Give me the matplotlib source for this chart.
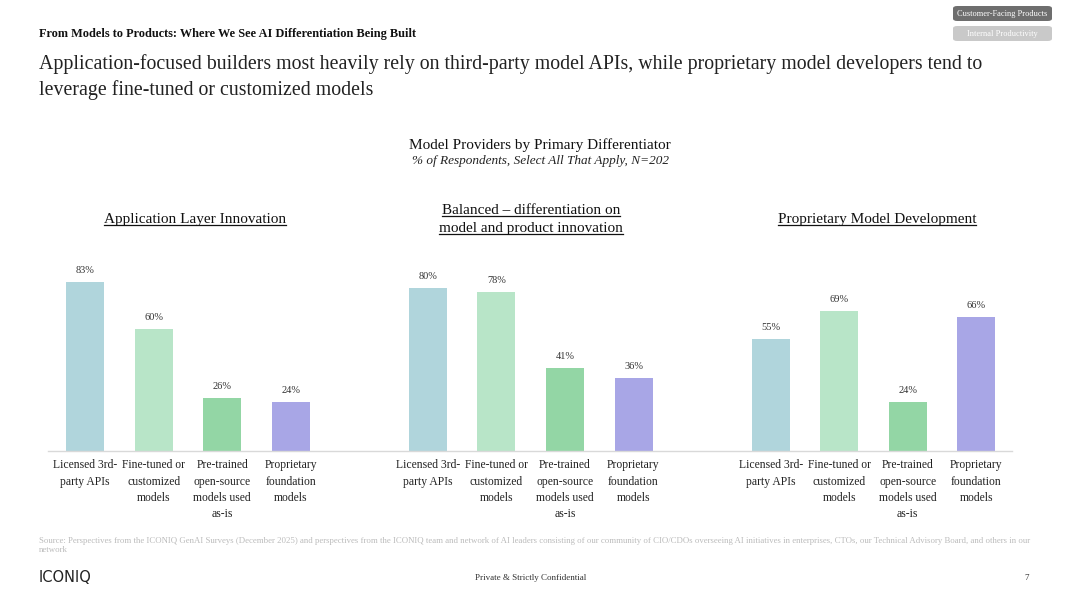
import numpy as np
import matplotlib
matplotlib.use("Agg")
import matplotlib.pyplot as plt
from matplotlib.patches import FancyBboxPatch
from matplotlib.lines import Line2D

# --- Data ---
categories = [
    "Licensed 3rd-\nparty APIs",
    "Fine-tuned or\ncustomized\nmodels",
    "Pre-trained\nopen-source\nmodels used\nas-is",
    "Proprietary\nfoundation\nmodels",
]
groups = [
    "Application Layer Innovation",
    "Balanced \u2013 differentiation on\nmodel and product innovation",
    "Proprietary Model Development",
]
app_layer = [83, 60, 26, 24]
balanced = [80, 78, 41, 36]
proprietary = [55, 69, 24, 66]
series = [app_layer, balanced, proprietary]

colors = ["#b0d5dc", "#b8e5c8", "#93d6a5", "#a8a6e6"]
SERIF = ["Liberation Serif", "DejaVu Serif"]

plt.rcParams["font.family"] = SERIF

fig = plt.figure(figsize=(10.67, 6), dpi=100)
W, H = 1067, 600


def fx(px):
    return px / W


def fy(py):
    return 1 - py / H


# one shared axis, groups separated by an empty slot
ax = fig.add_axes([fx(48), fy(451), fx(1012 - 48), (451 - 247.4) / H])
gap = 5
xpos, xlabels = [], []
for g, vals in enumerate(series):
    x = np.arange(len(vals)) + g * gap
    ax.bar(x, vals, width=0.555, color=colors, zorder=2)
    for xi, v in zip(x, vals):
        ax.annotate(f"{v}%", (xi, v), xytext=(0, 5), textcoords="offset points",
                    ha="center", va="bottom", fontsize=7.5, color="#333333")
    xpos.extend(x)
    xlabels.extend(categories)

ax.set_xlim(-0.54, 13.52)
ax.set_ylim(0, 100)
ax.set_xticks(xpos)
ax.set_xticklabels(xlabels, fontsize=8.4, color="#222222", linespacing=1.47)
ax.tick_params(axis="x", length=0, pad=6)
ax.set_yticks([])
for s in ["top", "right", "left"]:
    ax.spines[s].set_visible(False)
ax.spines["bottom"].set_color("#d9d9d9")
ax.spines["bottom"].set_linewidth(1)

# --- Headers ---
fig.text(fx(39), fy(34), "From Models to Products: Where We See AI Differentiation Being Built",
         fontsize=8.8, fontweight="bold", va="center", ha="left", color="#111111")
fig.text(fx(39), fy(64), "Application-focused builders most heavily rely on third-party model APIs, "
         "while proprietary model developers tend to",
         fontsize=14.3, va="center", ha="left", color="#222222")
fig.text(fx(39), fy(90), "leverage fine-tuned or customized models",
         fontsize=14.3, va="center", ha="left", color="#222222")

fig.text(fx(540), fy(145), "Model Providers by Primary Differentiator",
         fontsize=11, va="center", ha="center", color="#111111")
fig.text(fx(540), fy(161), "% of Respondents, Select All That Apply, N=202",
         fontsize=9.5, style="italic", va="center", ha="center", color="#222222")

# group titles, underlined
title_items = [(195, 219, groups[0]), (877, 219, groups[2])]
l1, l2 = groups[1].split("\n")
title_items += [(531, 210, l1), (531, 229, l2)]
title_texts = []
for cx, cy, t in title_items:
    title_texts.append(fig.text(fx(cx), fy(cy), t, fontsize=11, ha="center", va="center",
                                color="#111111"))

renderer = fig.canvas.get_renderer()
for t in title_texts:
    bb = t.get_window_extent(renderer)
    y = bb.y0 + 1
    fig.add_artist(Line2D([bb.x0 / W, bb.x1 / W], [y / H, y / H], color="#111111",
                          lw=0.9, transform=fig.transFigure))

# --- Top-right toggle buttons ---
for (y0, label, face) in [(6, "Customer-Facing Products", "#6e6e6e"),
                          (26, "Internal Productivity", "#c9c9c9")]:
    box = FancyBboxPatch((fx(953), fy(y0 + 15)), fx(99), 15 / H,
                         boxstyle="round,pad=0,rounding_size=0.004",
                         transform=fig.transFigure, facecolor=face, edgecolor="none")
    fig.add_artist(box)
    fig.text(fx(1002.5), fy(y0 + 7.5), label, fontsize=6, color="white",
             ha="center", va="center")

# --- Footer ---
fig.text(fx(39), fy(541), "Source: Perspectives from the ICONIQ GenAI Surveys (December 2025) and perspectives "
         "from the ICONIQ team and network of AI leaders consisting of our community of CIO/CDOs overseeing "
         "AI initiatives in enterprises, CTOs, our Technical Advisory Board, and others in our",
         fontsize=6.3, color="#bbbbbb", ha="left", va="center")
fig.text(fx(39), fy(550), "network", fontsize=6.3, color="#bbbbbb", ha="left", va="center")
fig.text(fx(39), fy(577), "ICONIQ", fontsize=10.5, color="#222222", ha="left", va="center",
         family=["Liberation Sans Narrow", "DejaVu Sans"])
fig.text(fx(531), fy(578), "Private & Strictly Confidential", fontsize=6.5, color="#333333",
         ha="center", va="center")
fig.text(fx(1027), fy(578), "7", fontsize=6.5, color="#333333", ha="center", va="center")

fig.savefig("out.png", dpi=100)
